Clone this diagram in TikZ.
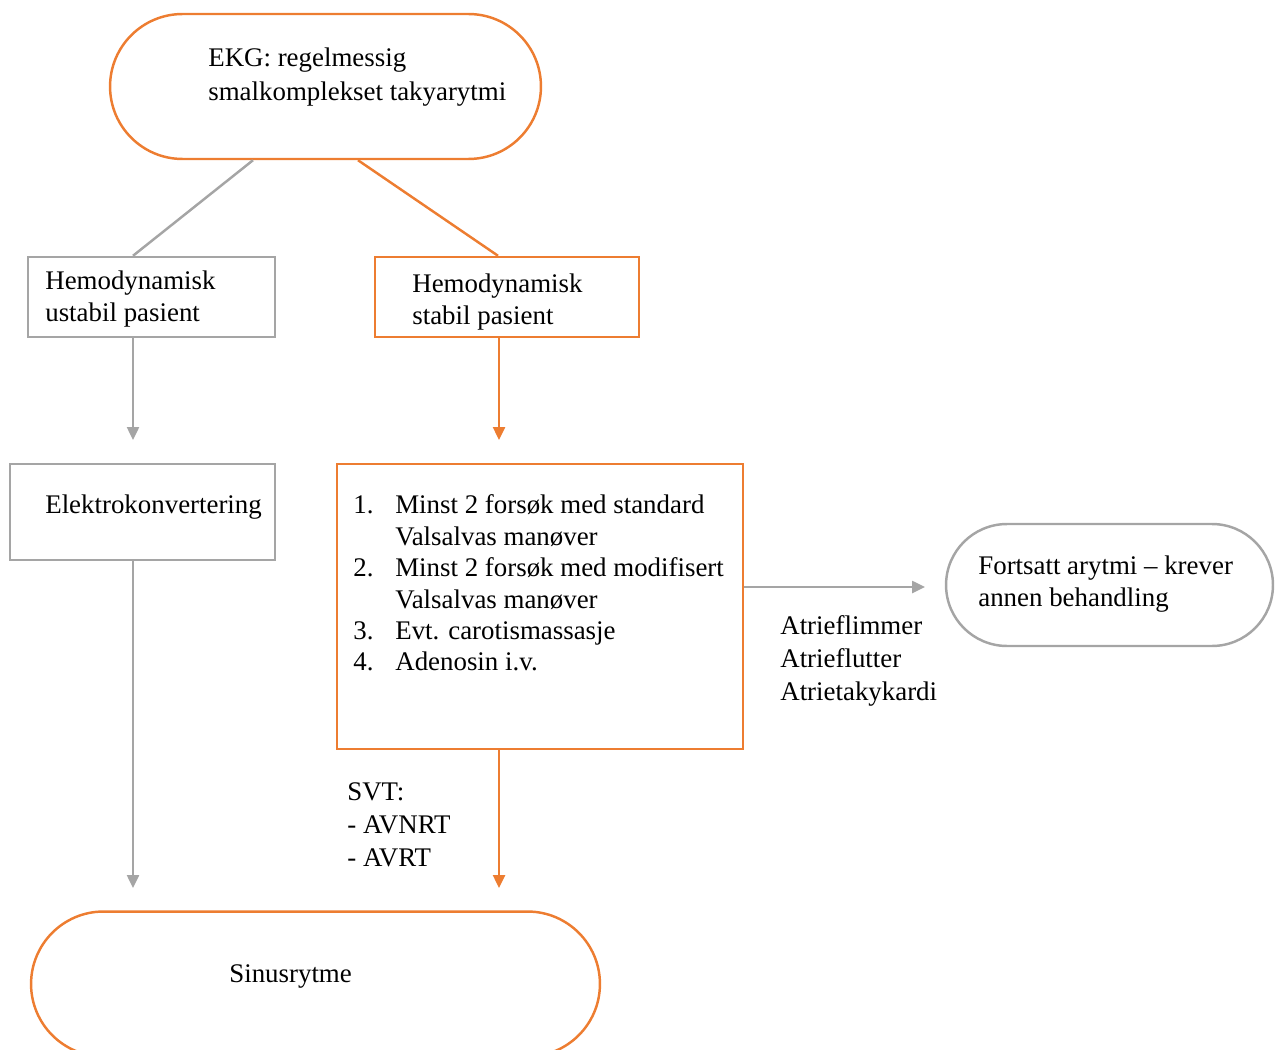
\documentclass[tikz,border=0pt]{standalone}
\usepackage{fontspec}
\setmainfont{Liberation Serif}
\usetikzlibrary{arrows.meta,shapes.misc}
\definecolor{oransje}{HTML}{ED7D31}
\definecolor{graa}{HTML}{A5A5A5}

\begin{document}
\begin{tikzpicture}[x=0.02cm, y=-0.02cm,
                font=\fontsize{15.3}{18.7}\selectfont,
                boks/.style={draw, rectangle, line width=1.4pt, inner sep=0pt},
                pille/.style={draw, rounded rectangle, line width=1.4pt, inner sep=0pt},
                tekst/.style={align=left, anchor=west, inner sep=0pt},
                pil/.style={-{Triangle[length=2.6mm, width=2.4mm]}, line width=1.4pt},
                strek/.style={line width=1.4pt}]

                \useasboundingbox (0,0) rectangle (1280,1050);

                % boksene
                \node[pille, draw=oransje, minimum width=8.62cm, minimum height=2.9cm] (ekg) at (325.5,86.5) {};
                \node[boks, draw=graa, minimum width=4.94cm, minimum height=1.6cm] (ustabil) at (151.5,297) {};
                \node[boks, draw=oransje, minimum width=5.28cm, minimum height=1.6cm] (stabil) at (507,297) {};
                \node[boks, draw=graa, minimum width=5.3cm, minimum height=1.92cm] (elek) at (142.5,512) {};
                \node[boks, draw=oransje, minimum width=8.12cm, minimum height=5.7cm] (tiltak) at (540,606.5) {};
                \node[pille, draw=graa, minimum width=6.54cm, minimum height=2.44cm] (fortsatt) at (1109.5,585) {};
                \node[pille, draw=oransje, minimum width=11.38cm, minimum height=2.9cm] (sinus) at (315.5,984) {};

                % tekster
                \node[tekst, font=\fontsize{15.3}{19.8}\selectfont] (ekg-t) at (208,77) {EKG: regelmessig\\smalkomplekset takyarytmi};
                \node[tekst] (ustabil-t) at (45,299) {Hemodynamisk\\ustabil pasient};
                \node[tekst] (stabil-t) at (412,302) {Hemodynamisk\\stabil pasient};
                \node[tekst] (elek-t) at (45,507.5) {Elektrokonvertering};
                \node[tekst, font=\fontsize{15.3}{17.9}\selectfont] (tiltak-t) at (353,586) {%
                  \begin{tabular}{@{}p{0.84cm}@{}l@{}}
                    1. & Minst 2 forsøk med standard\\
                       & Valsalvas manøver\\
                    2. & Minst 2 forsøk med modifisert\\
                       & Valsalvas manøver\\
                    3. & Evt. carotismassasje\\
                    4. & Adenosin i.v.
                  \end{tabular}};
                \node[tekst] (fortsatt-t) at (978,584) {Fortsatt arytmi – krever\\annen behandling};
                \node[tekst] (atrie) at (780,661) {Atrieflimmer\\Atrieflutter\\Atrietakykardi};
                \node[tekst] (svt) at (347,825) {SVT:\\- AVNRT\\- AVRT};
                \node[tekst] (sinus-t) at (229,976.5) {Sinusrytme};

                % frie endepunkt
                \coordinate (p1) at (133,440);
                \coordinate (p2) at (499,440);
                \coordinate (p3) at (133,888);
                \coordinate (p4) at (499,888);
                \coordinate (p5) at (925,587);

                \draw[strek, graa] ([xshift=-1.45cm]ekg.south) -- ([xshift=-0.37cm]ustabil.north);
                \draw[strek, oransje] ([xshift=0.65cm]ekg.south) -- ([xshift=-0.18cm]stabil.north);
                \draw[pil, graa] (ustabil.south -| p1) -- (p1);
                \draw[pil, oransje] (stabil.south -| p2) -- (p2);
                \draw[pil, graa] (elek.south -| p3) -- (p3);
                \draw[pil, oransje] (tiltak.south -| p4) -- (p4);
                \draw[pil, graa] (tiltak.east |- p5) -- (p5);
            \end{tikzpicture}
\end{document}
